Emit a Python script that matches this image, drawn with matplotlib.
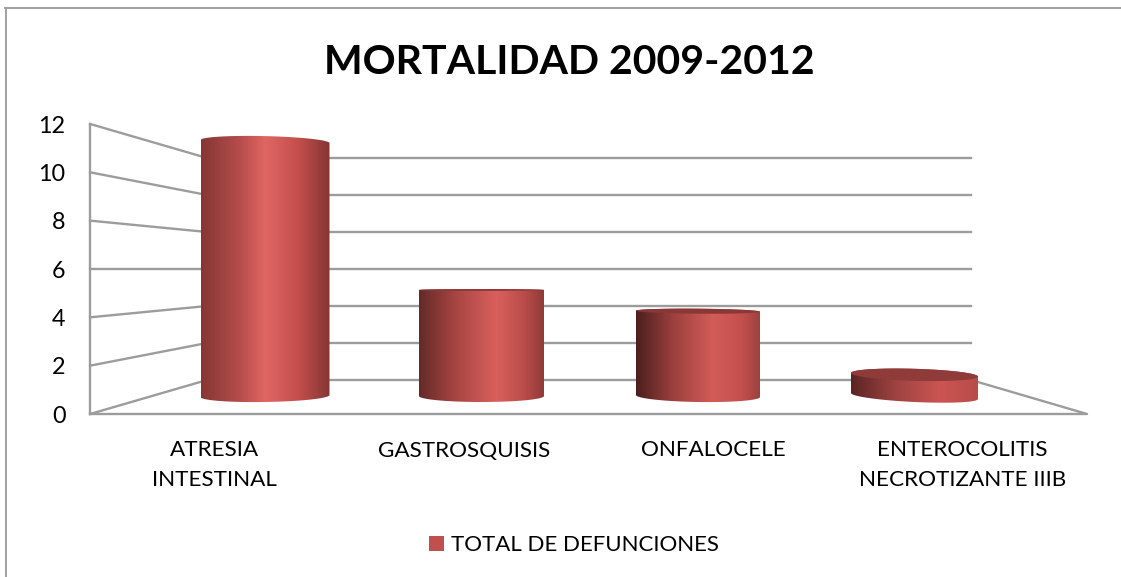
import numpy as np
import matplotlib
matplotlib.use('Agg')
import matplotlib.pyplot as plt
from matplotlib.colors import LinearSegmentedColormap
from matplotlib.patches import PathPatch, Patch, Polygon
from matplotlib.path import Path

plt.rcParams['font.family'] = ['Lato', 'DejaVu Sans']

# data
categories = ['ATRESIA\nINTESTINAL', 'GASTROSQUISIS', 'ONFALOCELE', 'ENTEROCOLITIS\nNECROTIZANTE IIIB']
defunciones = [12, 5, 4, 1]
yticks = [0, 2, 4, 6, 8, 10, 12]
title = 'MORTALIDAD 2009-2012'
legend_label = 'TOTAL DE DEFUNCIONES'

# look of each cylinder (pixels, then gradient stops)
half_widths = [64.5, 62.5, 62.0, 63.5]
top_bulge = [5.5, 1.0, 2.5, 6.0]
top_tilt = [1.5, 0.0, 0.5, 1.8]
bottom_tilt = [-1.0, 0.0, 1.0, 3.0]
top_colors = ['#a8494a', '#8f3b39', '#8a3836', '#8e3b39']
gradients = [
    [(0, '#843734'), (.3, '#b54d4b'), (.5, '#e06663'), (.75, '#c44f4d'), (1, '#843634')],
    [(0, '#642a28'), (.3, '#a84643'), (.62, '#d9605c'), (.85, '#b84c49'), (1, '#8f3b39')],
    [(0, '#4a1f1e'), (.3, '#9c403e'), (.62, '#d25c58'), (.85, '#c4504d'), (1, '#9c4240')],
    [(0, '#5a2424'), (.35, '#9d4341'), (.7, '#cb5552'), (1, '#b84c49')],
]
grid_color = '#9c9c9c'
border_color = '#a0a0a0'

W, H = 1121, 577
px_cat, px_val, px_zero = 216.5, 21.2, 396.0   # mid plane of the 3D box


def mid_y(v):
    return v


def front_y(v):
    return (24.17 * v + (px_zero - 414)) / px_val


def back_y(v):
    return (18.5 * v + (px_zero - 380)) / px_val


fig = plt.figure(figsize=(W / 100, H / 100), dpi=100)
ax = fig.add_axes([0, 0, 1, 1])
ax.axis('off')
xlim = (-265 / px_cat, (W - 265) / px_cat)
ylim = ((px_zero - H) / px_val, px_zero / px_val)

x_fl, x_bl, x_br, x_fr = -0.808, -0.268, 3.261, 3.797

# walls and floor
for v in yticks:
    ax.plot([x_fl, x_bl, x_br], [front_y(v), back_y(v), back_y(v)], color=grid_color, lw=1.7, zorder=1)
ax.plot([x_fl, x_fl], [front_y(0), front_y(12)], color=grid_color, lw=1.7, zorder=1)
ax.plot([x_fl, x_fr, x_br], [front_y(0), front_y(0), back_y(0)], color=grid_color, lw=1.7, zorder=1)

ts = np.linspace(0, np.pi, 60)
for i, v in enumerate(defunciones):
    half_w = half_widths[i] / px_cat
    bulge = top_bulge[i] / px_val
    tilt_t = top_tilt[i] / px_val
    tilt_b = bottom_tilt[i] / px_val
    low = 6.0 / px_val
    xs = i + half_w * np.cos(ts)
    top_edge = mid_y(v) + bulge * np.sin(ts) - tilt_t * np.cos(ts)
    bot_edge = mid_y(0) - low * np.sin(ts) - tilt_b * np.cos(ts)
    verts = np.vstack([np.column_stack([xs, top_edge]),
                       np.column_stack([xs[::-1], bot_edge[::-1]])])
    outline = PathPatch(Path(np.vstack([verts, verts[0]]), closed=True), fc='none', ec='none')
    ax.add_patch(outline)
    cmap = LinearSegmentedColormap.from_list('c%d' % i, gradients[i])
    im = ax.imshow(np.linspace(0, 1, 256)[None, :], cmap=cmap, aspect='auto', zorder=2,
                   extent=(i - half_w, i + half_w, -2, 14), interpolation='bilinear')
    im.set_clip_path(outline)
    # visible lid of the shorter cylinders
    if i > 0:
        lid_low = mid_y(v) - bulge * np.sin(ts) - tilt_t * np.cos(ts)
        ax.add_patch(Polygon(np.vstack([np.column_stack([xs, top_edge]),
                                        np.column_stack([xs[::-1], lid_low[::-1]])]),
                             closed=True, fc=top_colors[i], ec='none', zorder=3))

ax.set_xlim(xlim)
ax.set_ylim(ylim)

# axis texts
for v in yticks:
    ax.text(-0.921, front_y(v) - 2.2 / px_val, str(v), ha='right', va='center', fontsize=16.8, color='black')
step = (x_fr - x_fl) / len(categories)
for i, lab in enumerate(categories):
    ax.text(x_fl + step * (i + 0.5), front_y(0) - 26.5 / px_val, lab, ha='center', va='top',
            fontsize=16.2, color='black', linespacing=1.62)

fig.text(569 / W, 1 - 62 / H, title, ha='center', va='center', fontsize=29.5, fontweight='bold', color='black')

ax.legend(handles=[Patch(fc='#c0504d', ec='none', label=legend_label)], loc='center',
          bbox_to_anchor=(574 / W, 1 - 545 / H), frameon=False, fontsize=16.05,
          handlelength=0.68, handleheight=0.68, handletextpad=0.3, borderpad=0)

# chart frame, only top and left survive in the picture
fig.add_artist(plt.Line2D([5 / W, 1], [1 - 7.5 / H, 1 - 7.5 / H], color=border_color, lw=1.4))
fig.add_artist(plt.Line2D([5.5 / W, 5.5 / W], [0, 1 - 7.5 / H], color=border_color, lw=1.4))

plt.savefig('out.png', dpi=100)
